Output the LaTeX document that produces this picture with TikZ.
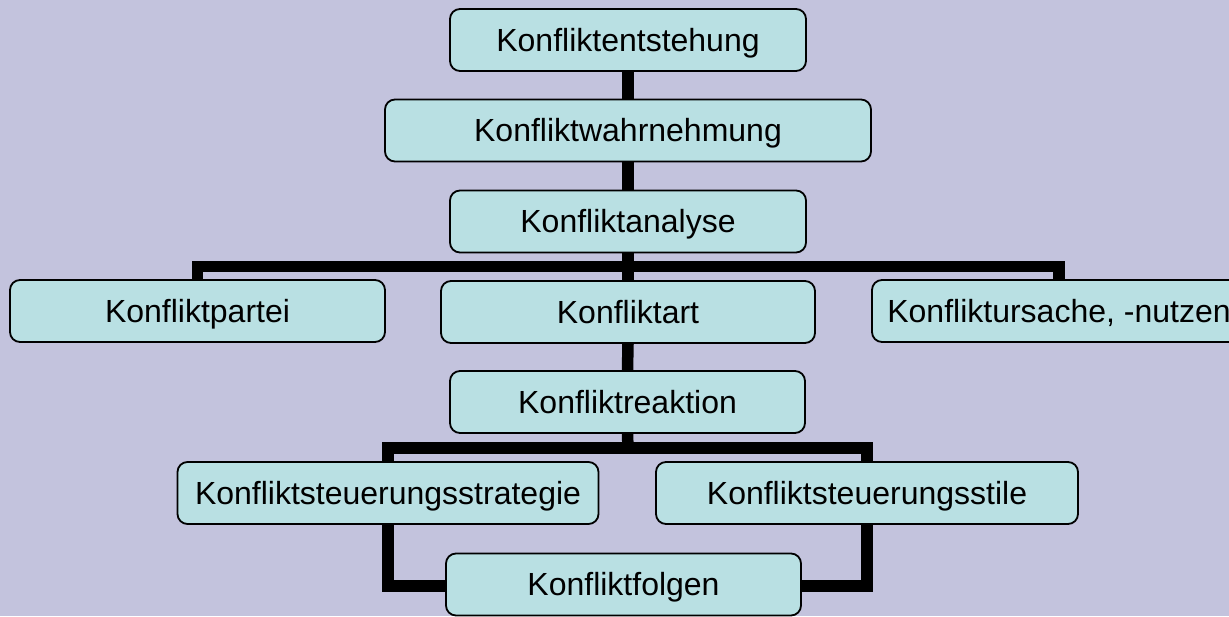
\documentclass[tikz,border=0pt]{standalone}
\usepackage{fontspec}
\setmainfont{Liberation Sans}
\pgfdeclarelayer{bg}
\pgfsetlayers{bg,main}
\definecolor{bgcol}{RGB}{195,195,221}
\definecolor{boxcol}{RGB}{185,224,227}
\tikzset{
  box/.style={draw=black, fill=boxcol, line width=1.8pt, rounded corners=10pt,
    minimum height=62pt, inner sep=0pt, text height=22.8pt, text depth=0pt,
    font=\fontsize{32pt}{38pt}\selectfont},
  conn/.style={draw=black, line width=11.5pt, line join=miter}
}
\begin{document}
\begin{tikzpicture}[x=1pt,y=-1pt]
\useasboundingbox (0,0) rectangle (1229,616);
\clip (0,0) rectangle (1229,616);
\begin{pgfonlayer}{bg}
\fill[bgcol] (0,0) rectangle (1229,616);
\end{pgfonlayer}

\node[box, minimum width=356pt] (ent)  at (628,40)    {Konfliktentstehung};
\node[box, minimum width=486pt] (wahr) at (628,130.5) {Konfliktwahrnehmung};
\node[box, minimum width=356pt] (ana)  at (628,221.5) {Konfliktanalyse};
\node[box, minimum width=375pt] (partei) at (197.5,311) {Konfliktpartei};
\node[box, minimum width=374pt] (art)  at (628,312)   {Konfliktart};
\node[box, minimum width=374pt] (urs)  at (1059,311)  {Konfliktursache, -nutzen};
\node[box, minimum width=355pt] (reak) at (627.5,402) {Konfliktreaktion};
\node[box, minimum width=421pt] (strat) at (388,493)  {Konfliktsteuerungsstrategie};
\node[box, minimum width=422pt] (stile) at (867,493)  {Konfliktsteuerungsstile};
\node[box, minimum width=355pt] (folg) at (623.5,584.5) {Konfliktfolgen};

\coordinate (bar1) at (628,266.5);
\coordinate (bar2) at (628,448);
\coordinate (low) at (628,586);

\begin{pgfonlayer}{bg}
\draw[conn] (ent.south) -- (wahr.north);
\draw[conn] (wahr.south) -- (ana.north);
\draw[conn] (ana.south) -- (art.north);
\draw[conn] (partei.north) -- (partei.north |- bar1) -- (urs.north |- bar1) -- (urs.north);
\draw[conn] (art.south) -- (reak.north);
\draw[conn] (reak.south) -- (bar2);
\draw[conn] (strat.north) -- (strat.north |- bar2) -- (stile.north |- bar2) -- (stile.north);
\draw[conn] (strat.south) -- (strat.south |- low) -- (folg.west |- low);
\draw[conn] (stile.south) -- (stile.south |- low) -- (folg.east |- low);
\end{pgfonlayer}
\end{tikzpicture}
\end{document}
